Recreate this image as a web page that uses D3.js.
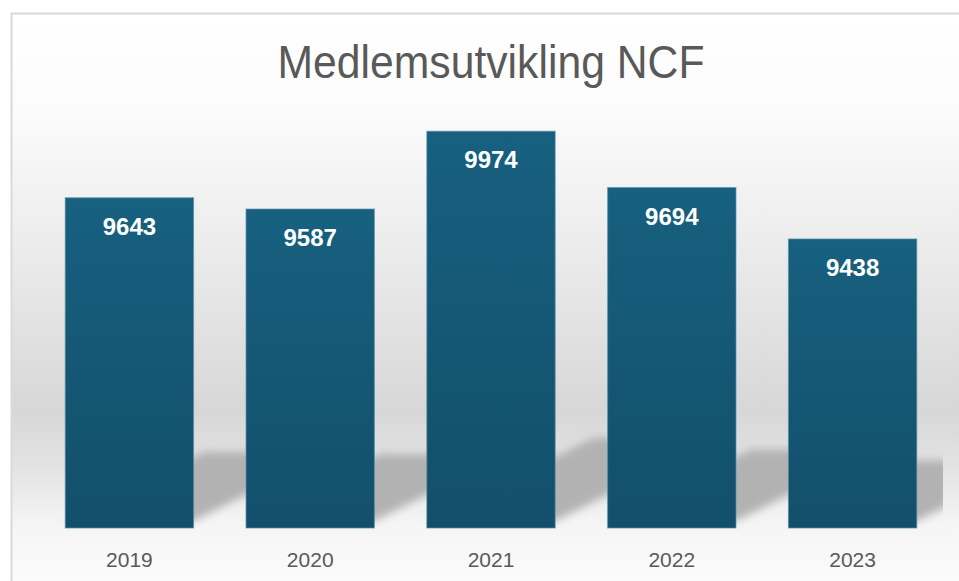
<!DOCTYPE html>
<html>
<head>
<meta charset="utf-8">
<script src="https://cdn.jsdelivr.net/npm/d3@7"></script>
<style>
  body { margin: 0; background: #ffffff; }
  svg { display: block; }
</style>
</head>
<body>
<script>
const years = ["2019", "2020", "2021", "2022", "2023"];
const members = [9643, 9587, 9974, 9694, 9438];
const yDomain = [8000, 10000];

const width = 959, height = 581;

const svg = d3.select("body").append("svg")
    .attr("width", width)
    .attr("height", height);

const defs = svg.append("defs");

// chart background gradient (white at top, grey near the floor)
const bg = defs.append("linearGradient")
    .attr("id", "bg")
    .attr("gradientUnits", "userSpaceOnUse")
    .attr("x1", 0).attr("x2", 0)
    .attr("y1", 13).attr("y2", 581);
[[0, "#ffffff"], [0.18, "#fbfbfb"], [0.42, "#ebebeb"], [0.70, "#d7d7d7"], [0.80, "#e3e3e3"], [0.90, "#f5f5f5"], [1, "#fbfbfb"]]
    .forEach(s => bg.append("stop").attr("offset", s[0]).attr("stop-color", s[1]));

// bar gradient
const barGrad = defs.append("linearGradient")
    .attr("id", "barGrad")
    .attr("x1", 0).attr("x2", 0)
    .attr("y1", 0).attr("y2", 1);
barGrad.append("stop").attr("offset", 0).attr("stop-color", "#17607f");
barGrad.append("stop").attr("offset", 1).attr("stop-color", "#124f6a");

defs.append("filter")
    .attr("id", "blur")
    .attr("x", "-20%").attr("y", "-50%")
    .attr("width", "140%").attr("height", "200%")
    .append("feGaussianBlur")
    .attr("stdDeviation", 4.5);

// scales
const xScale = d3.scaleBand()
    .domain(years)
    .range([39, 943])
    .paddingInner(0.29)
    .paddingOuter(0.145);

const yScale = d3.scaleLinear()
    .domain(yDomain)
    .range([528, 126]);

defs.append("clipPath")
    .attr("id", "plotClip")
    .append("rect")
    .attr("x", 39).attr("y", 0)
    .attr("width", 943 - 39).attr("height", 528);

// background + border
svg.append("rect")
    .attr("x", 11.5).attr("y", 13.5)
    .attr("width", width).attr("height", height)
    .attr("fill", "url(#bg)")
    .attr("stroke", "#d9d9d9")
    .attr("stroke-width", 2);

// perspective shadows of the bars on the floor
const floorY = 521;
const shadows = svg.append("g")
    .attr("clip-path", "url(#plotClip)")
    .append("g")
    .attr("filter", "url(#blur)")
    .attr("fill", "#b2b2b2");

shadows.selectAll("path")
    .data(years)
    .join("path")
    .attr("d", (d, i) => {
        const x0 = xScale(d), x1 = x0 + xScale.bandwidth();
        const h = (yScale.range()[0] - yScale(members[i])) * 0.21;
        const dx = h * 2;
        return `M${x0},${floorY}L${x1},${floorY}L${x1 + dx},${floorY - h}L${x0 + dx},${floorY - h}Z`;
    });

// bars
svg.append("g")
    .selectAll("rect")
    .data(years)
    .join("rect")
    .attr("x", d => xScale(d))
    .attr("y", (d, i) => yScale(members[i]))
    .attr("width", xScale.bandwidth())
    .attr("height", (d, i) => yScale.range()[0] - yScale(members[i]))
    .attr("fill", "url(#barGrad)")
    .attr("stroke", "#5a90a8")
    .attr("stroke-opacity", 0.7)
    .attr("stroke-width", 1);

// value labels inside the bars
svg.append("g")
    .selectAll("text")
    .data(years)
    .join("text")
    .attr("x", d => xScale(d) + xScale.bandwidth() / 2)
    .attr("y", (d, i) => yScale(members[i]) + 37)
    .attr("text-anchor", "middle")
    .style("font-family", "'Liberation Sans', Arial, sans-serif")
    .style("font-weight", "bold")
    .style("font-size", "24px")
    .style("fill", "#ffffff")
    .text((d, i) => members[i]);

// x axis (labels only)
const xAxis = svg.append("g")
    .attr("transform", "translate(0,528)")
    .call(d3.axisBottom(xScale).tickSize(0).tickPadding(0));
xAxis.select(".domain").remove();
xAxis.selectAll("text")
    .attr("dy", 0)
    .attr("y", 39)
    .style("font-family", "'Liberation Sans', Arial, sans-serif")
    .style("font-size", "21px")
    .style("fill", "#595959");

// title (condensed look: squeeze a regular face into the measured width)
svg.append("text")
    .attr("x", 491)
    .attr("y", 78)
    .attr("text-anchor", "middle")
    .attr("textLength", 427)
    .attr("lengthAdjust", "spacingAndGlyphs")
    .style("font-family", "'Liberation Sans', Arial, sans-serif")
    .style("font-size", "46px")
    .style("fill", "#595959")
    .text("Medlemsutvikling NCF");
</script>
</body>
</html>
